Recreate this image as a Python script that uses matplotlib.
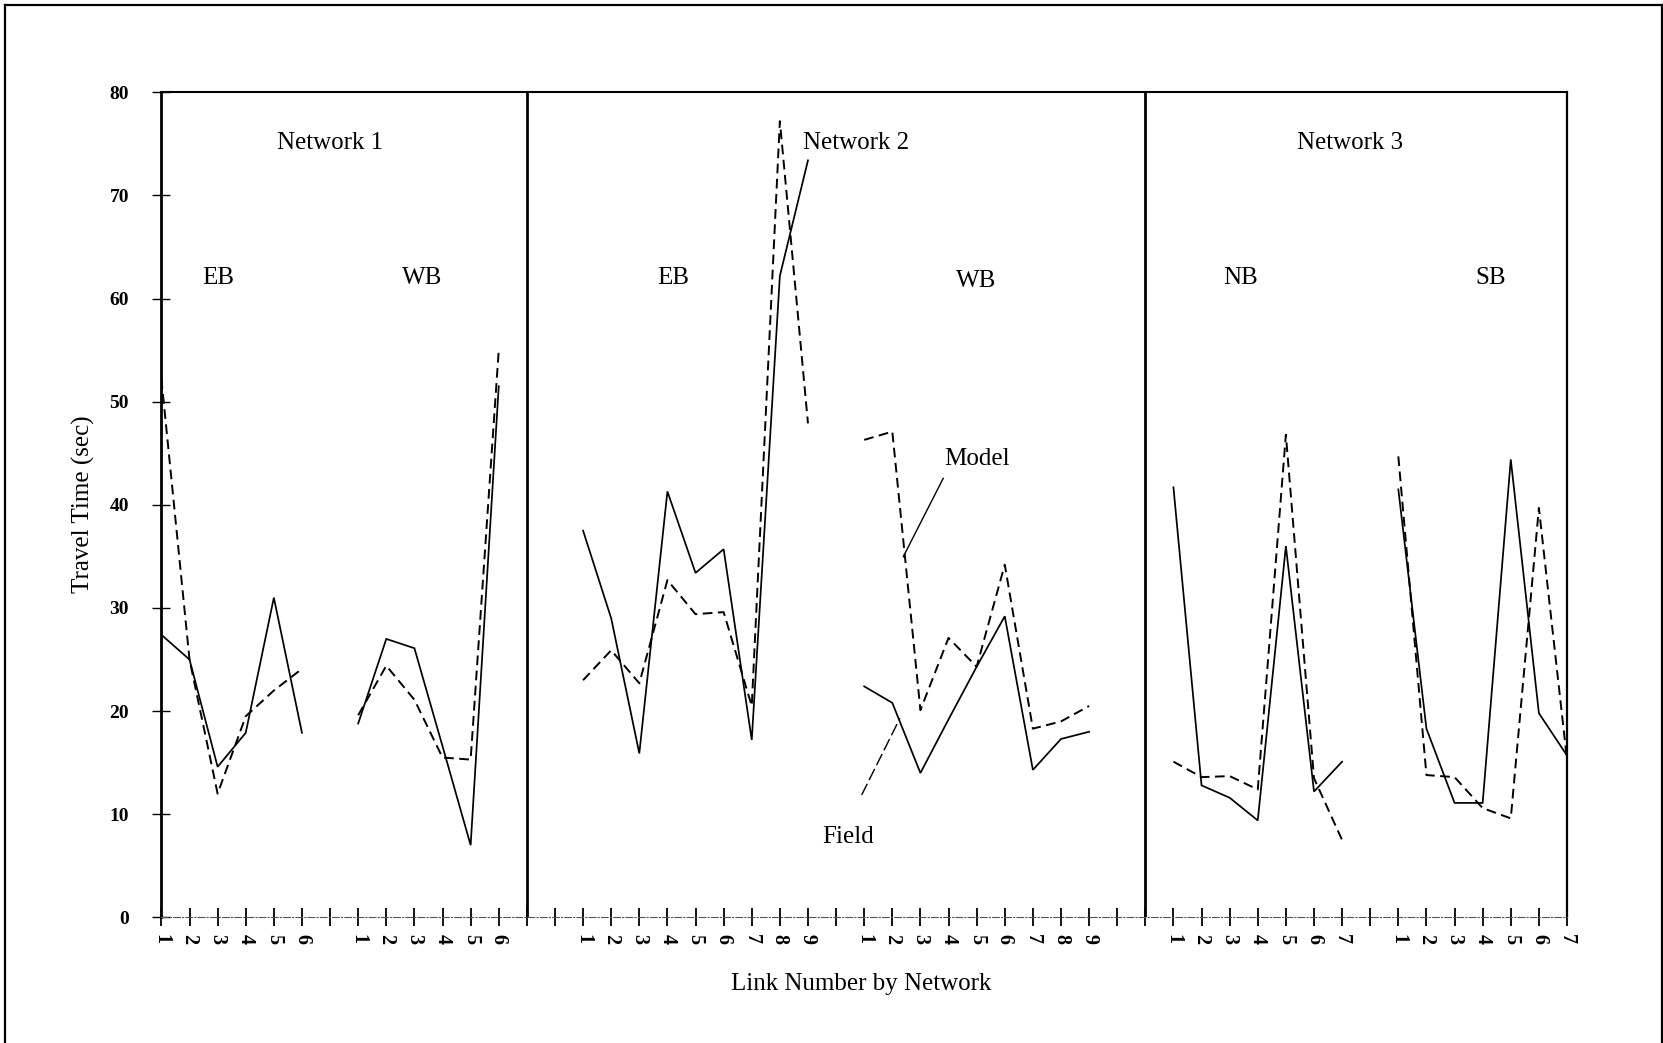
import matplotlib
matplotlib.use("Agg")
import matplotlib.pyplot as plt
from matplotlib.lines import Line2D

plt.rcParams['font.family'] = ['Liberation Serif', 'DejaVu Serif']

# ---------------- data (travel time, sec) ----------------
n1_eb_links = ['1', '2', '3', '4', '5', '6']
n1_eb_field = [27.4, 25.0, 14.6, 17.9, 31.0, 17.9]
n1_eb_model = [52.2, 25.0, 12.0, 19.5, 22.0, 24.1]

n1_wb_links = ['1', '2', '3', '4', '5', '6']
n1_wb_field = [18.8, 27.0, 26.1, 16.6, 7.0, 51.5]
n1_wb_model = [19.6, 24.4, 21.1, 15.5, 15.3, 55.0]

n2_eb_links = ['1', '2', '3', '4', '5', '6', '7', '8', '9']
n2_eb_field = [37.5, 29.0, 15.9, 41.3, 33.4, 35.7, 17.2, 62.2, 73.4]
n2_eb_model = [23.0, 25.9, 22.7, 32.7, 29.4, 29.6, 20.5, 77.2, 47.9]

n2_wb_links = ['1', '2', '3', '4', '5', '6', '7', '8', '9']
n2_wb_field = [22.4, 20.8, 14.0, 19.2, 24.3, 29.2, 14.3, 17.3, 18.0]
n2_wb_model = [46.3, 47.1, 20.1, 27.1, 24.3, 34.2, 18.3, 19.0, 20.5]

n3_nb_links = ['1', '2', '3', '4', '5', '6', '7']
n3_nb_field = [41.7, 12.8, 11.6, 9.4, 36.0, 12.2, 15.1]
n3_nb_model = [15.1, 13.6, 13.7, 12.4, 46.8, 13.5, 7.5]

n3_sb_links = ['1', '2', '3', '4', '5', '6', '7']
n3_sb_field = [41.5, 18.3, 11.1, 11.1, 44.4, 19.8, 15.7]
n3_sb_model = [44.7, 13.8, 13.6, 10.6, 9.6, 39.7, 15.3]

network_names = ['Network 1', 'Network 2', 'Network 3']
direction_names = ['EB', 'WB', 'EB', 'WB', 'NB', 'SB']

# ---------------- layout (category slots on the x axis) ----------------
segment_starts = [0, 7, 15, 25, 36, 44]
dividers = [13, 35]
n_slots = 51
segments = [
    (n1_eb_links, n1_eb_field, n1_eb_model),
    (n1_wb_links, n1_wb_field, n1_wb_model),
    (n2_eb_links, n2_eb_field, n2_eb_model),
    (n2_wb_links, n2_wb_field, n2_wb_model),
    (n3_nb_links, n3_nb_field, n3_nb_model),
    (n3_sb_links, n3_sb_field, n3_sb_model),
]

W, H = 1663, 1043
fig = plt.figure(figsize=(W / 100, H / 100), dpi=100)
ax_l, ax_r, ax_t, ax_b = 161.4, 1567.0, 92.3, 917.4
ax = fig.add_axes([ax_l / W, 1 - ax_b / H, (ax_r - ax_l) / W, (ax_b - ax_t) / H])
ax.set_xlim(0, n_slots - 1)
ax.set_ylim(0, 80)

tick_labels = [''] * n_slots
for start, (links, field, model) in zip(segment_starts, segments):
    xs = [start + i for i in range(len(links))]
    ax.plot(xs, field, color='black', lw=1.25, solid_joinstyle='miter')
    ax.plot(xs, model, color='black', lw=1.4, dashes=(5, 2.8))
    for i, lab in enumerate(links):
        tick_labels[start + i] = lab

for d in dividers:
    ax.axvline(d, color='black', lw=2.0)

# spines
ax.spines['left'].set_linewidth(2.0)
ax.spines['top'].set_linewidth(1.5)
ax.spines['right'].set_linewidth(1.6)
ax.spines['bottom'].set_linewidth(0.8)
ax.spines['bottom'].set_color('#555555')
ax.spines['bottom'].set_linestyle((0, (6, 2, 1, 2)))

ax.set_xticks(range(n_slots))
ax.set_xticklabels(tick_labels, rotation=-90, fontweight='bold')
ax.tick_params(axis='x', direction='inout', length=13.5, width=1.3, pad=5,
               labelsize=14.5, colors='black')
ax.set_yticks(range(0, 81, 10))
ax.set_yticklabels([str(v) for v in range(0, 81, 10)], fontweight='bold')
ax.tick_params(axis='y', direction='inout', length=12.5, width=1.0, pad=17,
               labelsize=14)

ax.set_xlabel('Link Number by Network', fontsize=18)
ax.xaxis.set_label_coords((861 - ax_l) / (ax_r - ax_l), (ax_b - 973) / (ax_b - ax_t))
ax.set_ylabel('Travel Time (sec)', fontsize=18)
ax.yaxis.set_label_coords((95 - ax_l) / (ax_r - ax_l), 0.501)

# network and direction labels
net_x = [6.0, 24.7, 42.3]
for name, x in zip(network_names, net_x):
    ax.text(x, 75.05, name, ha='center', va='center', fontsize=18)
dir_x = [2.03, 9.27, 18.2, 29.0, 38.4, 47.3]
dir_y = [61.95, 61.95, 61.95, 61.75, 61.95, 61.95]
for name, x, y in zip(direction_names, dir_x, dir_y):
    ax.text(x, y, name, ha='center', va='center', fontsize=18)

# series callouts
ax.text(29.0, 44.45, 'Model', ha='center', va='center', fontsize=18)
ax.plot([27.81, 26.39], [42.57, 34.97], color='black', lw=1.0)
ax.text(24.41, 7.75, 'Field', ha='center', va='center', fontsize=18)
ax.plot([24.91, 26.27], [11.87, 19.30], color='black', lw=1.0, dashes=(9, 3))

# outer page frame
fx0, fx1, fy1 = 5 / W, 1661.5 / W, 1 - 5 / H
fig.add_artist(Line2D([fx0, fx0], [0, fy1], transform=fig.transFigure, color='black', lw=1.6))
fig.add_artist(Line2D([fx0, fx1], [fy1, fy1], transform=fig.transFigure, color='black', lw=1.6))
fig.add_artist(Line2D([fx1, fx1], [0, fy1], transform=fig.transFigure, color='black', lw=1.6))

fig.savefig('out.png', dpi=100, facecolor='white')
